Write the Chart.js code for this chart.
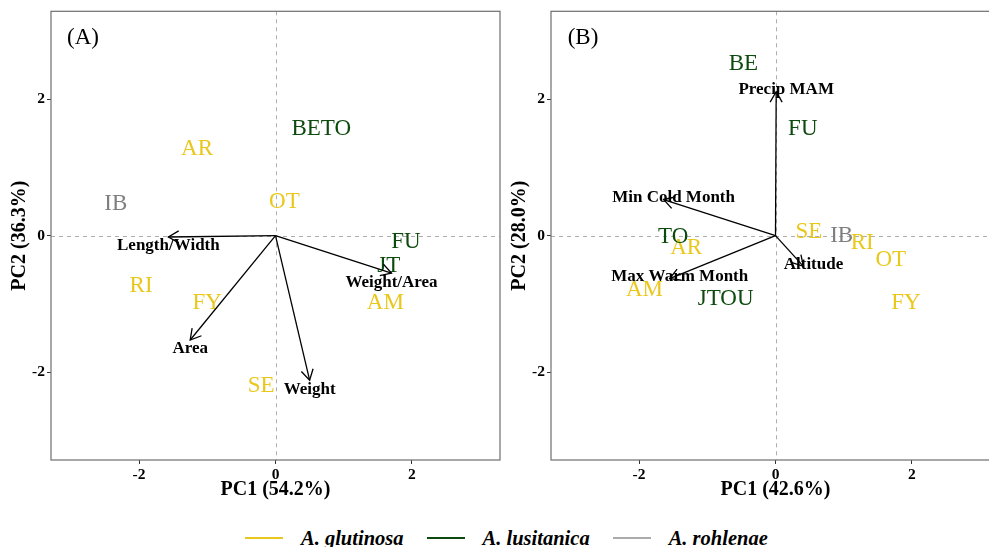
<!DOCTYPE html>
<html>
<head>
<meta charset="utf-8">
<script src="https://cdn.jsdelivr.net/npm/chart.js@4.4.0/dist/chart.umd.min.js"></script>
<style>
  html, body { margin: 0; padding: 0; background: #fff; overflow: hidden; width: 989px; height: 547px; }
  #wrapA { position: absolute; left: 0; top: 0; }
  #wrapB { position: absolute; left: 500px; top: 0; }
  #legend { position: absolute; left: 245px; top: 526px; display: flex; align-items: center;
            font-family: "Liberation Serif", serif; font-weight: bold; font-style: italic;
            font-size: 20.5px; white-space: nowrap; line-height: 24px; }
  .key { display: inline-block; width: 38px; height: 0; border-top: 2px solid; margin-right: 18px; }
  .lab { margin-right: 23px; }
</style>
</head>
<body>
<div id="wrapA"><canvas id="panelA" width="502" height="505"></canvas></div>
<div id="wrapB"><canvas id="panelB" width="502" height="505"></canvas></div>
<div id="legend"></div>
<script>
const species = ['A. glutinosa', 'A. lusitanica', 'A. rohlenae'];
const speciesColors = ['#EAC71B', '#0D4A0D', '#7F7F7F'];
const legendColors = ['#EAC71B', '#0D4A0D', '#ABABAB'];
const axisTicks = [-2, 0, 2];

// panel A: leaf traits
const sitesA = ['AR', 'BETO', 'IB', 'OT', 'FU', 'JT', 'RI', 'FY', 'AM', 'SE'];
const pc1A = [-1.15, 0.67, -2.34, 0.13, 1.91, 1.66, -1.97, -1.00, 1.61, -0.21];
const pc2A = [1.27, 1.56, 0.46, 0.49, -0.09, -0.45, -0.74, -0.98, -0.98, -2.20];
const groupA = [0, 1, 2, 0, 1, 1, 0, 0, 0, 0];
const varsA = ['Length/Width', 'Weight/Area', 'Area', 'Weight'];
const load1A = [-1.57, 1.70, -1.25, 0.50];
const load2A = [-0.02, -0.55, -1.53, -2.12];

// panel B: climate
const sitesB = ['BE', 'FU', 'TO', 'JTOU', 'AR', 'SE', 'RI', 'OT', 'AM', 'FY', 'IB'];
const pc1B = [-0.47, 0.40, -1.50, -0.73, -1.31, 0.49, 1.27, 1.69, -1.92, 1.91, 0.97];
const pc2B = [2.52, 1.56, -0.02, -0.93, -0.18, 0.06, -0.11, -0.36, -0.79, -0.98, 0.00];
const groupB = [1, 1, 1, 1, 0, 0, 0, 0, 0, 0, 2];
const varsB = ['Precip MAM', 'Min Cold Month', 'Max Warm Month', 'Altitude'];
const load1B = [0.01, -1.64, -1.55, 0.41];
const load2B = [2.11, 0.53, -0.63, -0.45];

const FONT = '"Liberation Serif", "Times New Roman", serif';

const biplot = {
    id: 'biplot',
    beforeDatasetsDraw(chart, args, opts) {
        const {ctx, chartArea: a, scales: {x, y}} = chart;
        ctx.save();
        // dashed zero lines
        ctx.strokeStyle = '#ADADAD';
        ctx.lineWidth = 1;
        ctx.setLineDash([4, 4]);
        const x0 = Math.round(x.getPixelForValue(0)) + 0.5;
        const y0 = Math.round(y.getPixelForValue(0)) + 0.5;
        ctx.beginPath();
        ctx.moveTo(a.left, y0); ctx.lineTo(a.right, y0);
        ctx.moveTo(x0, a.top); ctx.lineTo(x0, a.bottom);
        ctx.stroke();
        ctx.setLineDash([]);
        // site labels
        ctx.font = '23px ' + FONT;
        ctx.textAlign = 'center';
        ctx.textBaseline = 'middle';
        chart.data.datasets.forEach((ds, i) => {
            if (!ds.sites) return;
            const meta = chart.getDatasetMeta(i);
            ctx.fillStyle = ds.borderColor;
            meta.data.forEach((pt, j) => ctx.fillText(ds.data[j].label, pt.x, pt.y));
        });
        ctx.restore();
    },
    afterDatasetsDraw(chart, args, opts) {
        const {ctx, chartArea: a} = chart;
        ctx.save();
        chart.data.datasets.forEach((ds, i) => {
            if (!ds.variable) return;
            const meta = chart.getDatasetMeta(i);
            const p0 = meta.data[0], p1 = meta.data[1];
            const ang = Math.atan2(p1.y - p0.y, p1.x - p0.x);
            const len = 12, spread = Math.PI / 6;
            ctx.strokeStyle = '#000';
            ctx.lineWidth = 1.3;
            ctx.beginPath();
            ctx.moveTo(p1.x - len * Math.cos(ang - spread), p1.y - len * Math.sin(ang - spread));
            ctx.lineTo(p1.x, p1.y);
            ctx.lineTo(p1.x - len * Math.cos(ang + spread), p1.y - len * Math.sin(ang + spread));
            ctx.stroke();
            ctx.font = 'bold 17px ' + FONT;
            ctx.fillStyle = '#000';
            ctx.textAlign = 'center';
            ctx.textBaseline = 'middle';
            ctx.fillText(ds.variable, p1.x + opts.dx, p1.y + opts.dy);
        });
        // panel border
        ctx.strokeStyle = '#6E6E6E';
        ctx.lineWidth = 1.2;
        ctx.strokeRect(a.left, a.top, a.right - a.left, a.bottom - a.top);
        // panel tag
        ctx.font = '23px ' + FONT;
        ctx.fillStyle = '#000';
        ctx.textAlign = 'center';
        ctx.textBaseline = 'middle';
        ctx.fillText(opts.tag, a.left + 32, a.top + 27);
        ctx.restore();
    }
};

function buildDatasets(sites, pc1, pc2, group, vars, load1, load2) {
    const sets = species.map((sp, k) => ({
        label: sp,
        sites: true,
        borderColor: speciesColors[k],
        backgroundColor: speciesColors[k],
        pointRadius: 0,
        showLine: false,
        data: sites.map((s, j) => ({x: pc1[j], y: pc2[j], label: s})).filter((d, j) => group[j] === k)
    }));
    vars.forEach((v, j) => sets.push({
        label: v,
        variable: v,
        borderColor: '#000',
        borderWidth: 1.3,
        pointRadius: 0,
        showLine: true,
        data: [{x: 0, y: 0}, {x: load1[j], y: load2[j]}]
    }));
    return sets;
}

function axis(title, isY) {
    return {
        type: 'linear',
        min: -3.29,
        max: 3.29,
        afterBuildTicks: s => { s.ticks = axisTicks.map(v => ({value: v})); },
        afterFit: s => { if (isY) s.width = 51; else s.height = 45; },
        grid: {drawOnChartArea: false, drawTicks: true, tickLength: 4, color: '#333'},
        border: {display: false},
        ticks: {color: '#000', padding: 2, font: {family: FONT, size: 15.5, weight: 'bold'}},
        title: {
            display: true, text: title, color: '#000',
            padding: isY ? {top: 8, bottom: 0} : {top: 0, bottom: 3},
            font: {family: FONT, size: 20, weight: 'bold'}
        }
    };
}

function makePanel(id, tag, dx, dy, xTitle, yTitle, datasets) {
    return new Chart(document.getElementById(id), {
        type: 'scatter',
        data: {datasets: datasets},
        plugins: [biplot],
        options: {
            responsive: false,
            animation: false,
            layout: {padding: {top: 11, right: 2, left: 0, bottom: 0}},
            scales: {x: axis(xTitle, false), y: axis(yTitle, true)},
            plugins: {
                legend: {display: false},
                tooltip: {enabled: false},
                biplot: {tag: tag, dx: dx, dy: dy}
            }
        }
    });
}

makePanel('panelA', '(A)', 0, 9, 'PC1 (54.2%)', 'PC2 (36.3%)',
    buildDatasets(sitesA, pc1A, pc2A, groupA, varsA, load1A, load2A));
makePanel('panelB', '(B)', 10, -2, 'PC1 (42.6%)', 'PC2 (28.0%)',
    buildDatasets(sitesB, pc1B, pc2B, groupB, varsB, load1B, load2B));

const legend = document.getElementById('legend');
species.forEach((sp, k) => {
    const key = document.createElement('span');
    key.className = 'key';
    key.style.borderTopColor = legendColors[k];
    const lab = document.createElement('span');
    lab.className = 'lab';
    lab.textContent = sp;
    legend.appendChild(key);
    legend.appendChild(lab);
});
</script>
</body>
</html>
